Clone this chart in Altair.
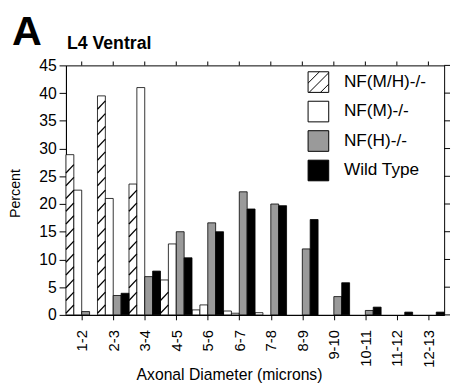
import altair as alt
import pandas as pd

# ---- data ----
categories = ["1-2", "2-3", "3-4", "4-5", "5-6", "6-7", "7-8", "8-9", "9-10", "10-11", "11-12", "12-13"]
series = ["NF(M/H)-/-", "NF(M)-/-", "NF(H)-/-", "Wild Type"]
nf_mh = [28.9, 39.5, 23.6, 6.3, 0.9, 0.7, 0.4, 0, 0, 0, 0, 0]
nf_m = [22.5, 21.0, 41.0, 12.8, 1.8, 0.3, 0, 0, 0, 0, 0, 0]
nf_h = [0.6, 3.5, 6.9, 15.0, 16.6, 22.2, 20.0, 11.9, 3.3, 0.8, 0, 0]
wild = [0, 3.9, 7.9, 10.3, 15.0, 19.1, 19.7, 17.2, 5.8, 1.4, 0.5, 0.5]
y_ticks = [0, 5, 10, 15, 20, 25, 30, 35, 40, 45]
fills = ["white", "white", "#9a9a9a", "black"]

FONT = "Liberation Sans"
W, H = 385, 254
n = len(categories)
values = [nf_mh, nf_m, nf_h, wild]

rows = []
for j, (s, vals) in enumerate(zip(series, values)):
    for i, v in enumerate(vals):
        if v > 0:
            rows.append({"series": s, "cat": categories[i],
                         "x0": i + j / 4, "x1": i + (j + 1) / 4, "v": v})
bars_df = pd.DataFrame(rows)

# hatch segments for the NF(M/H)-/- bars, derived from their values
spacing, rise = 2.3, 1.5
hatch = []
for i, v in enumerate(nf_mh):
    k = 0
    while k * spacing + 0.3 + rise <= v:
        y0 = k * spacing + 0.3
        hatch.append({"x0": i + 0.0, "x1": i + 0.25, "v": y0, "v1": y0 + rise})
        k += 1
hatch_df = pd.DataFrame(hatch)

centers = [i + 0.5 for i in range(n)]
label_expr = "[" + ",".join("'" + c + "'" for c in categories) + "][floor(datum.value)]"

xscale = alt.Scale(domain=[0, n], nice=False, zero=False)
yscale = alt.Scale(domain=[0, 45], nice=False)
fillscale = alt.Scale(domain=series, range=fills)

hatched_sq = "M-1,-1H1V1H-1Z M-1,0.1L0.1,-1 M-0.9,1L1,-0.9 M0.2,1L1,0.2"
symbol_expr = "datum.value === '" + series[0] + "' ? '" + hatched_sq + "' : 'square'"

x_axis = alt.Axis(values=centers, labelExpr=label_expr, labelAngle=270,
                  title="Axonal Diameter (microns)", orient="bottom",
                  tickSize=5, labelPadding=10, labelFontSize=15,
                  titleX=166, titleY=66, titleBaseline="alphabetic",
                  titleAnchor="middle")
y_axis = alt.Axis(values=y_ticks, title="Percent", orient="left",
                  tickSize=7, labelPadding=3, labelFontSize=16,
                  titleX=-47, titleY=130, titleAngle=270,
                  titleBaseline="alphabetic", titleFontSize=14.5)

bars = alt.Chart(bars_df).mark_rect(stroke="black", strokeWidth=0.8).encode(
    x=alt.X("x0:Q", scale=xscale, axis=x_axis),
    x2="x1:Q",
    y=alt.Y("v:Q", scale=yscale, axis=y_axis),
    y2=alt.datum(0),
    fill=alt.Fill("series:N", scale=fillscale,
                  legend=alt.Legend(title=None, orient="none", legendX=246, legendY=6,
                                    labelFontSize=17.5, labelFont=FONT, symbolSize=441,
                                    symbolType={"expr": symbol_expr},
                                    symbolStrokeColor="black", symbolStrokeWidth=1,
                                    rowPadding=4, labelOffset=15, padding=0,
                                    labelColor="black")),
)

hatch_layer = alt.Chart(hatch_df).mark_rule(color="black", strokeWidth=1.3).encode(
    x=alt.X("x0:Q", scale=xscale, axis=x_axis),
    x2="x1:Q",
    y=alt.Y("v:Q", scale=yscale, axis=y_axis),
    y2="v1:Q",
)

# outward ticks on the top and right frame edges (same positions as the axis ticks)
top_df = pd.DataFrame({"x0": centers})
top_ticks = alt.Chart(top_df).mark_tick(color="black", orient="vertical", size=4,
                                        thickness=1, opacity=1).encode(
    x=alt.X("x0:Q", scale=xscale, axis=x_axis),
    y=alt.value(-2),
)
right_df = pd.DataFrame({"v": y_ticks})
right_ticks = alt.Chart(right_df).mark_tick(color="black", orient="horizontal", size=6,
                                            thickness=1, opacity=1).encode(
    y=alt.Y("v:Q", scale=yscale, axis=y_axis),
    x=alt.value(W + 3),
)

titles_df = pd.DataFrame({"t": ["A"]})
big_a = alt.Chart(titles_df).mark_text(font=FONT, fontSize=42, fontWeight="bold",
                                       align="left", baseline="alphabetic",
                                       color="black").encode(
    text="t:N", x=alt.value(-55), y=alt.value(-21))
sub_df = pd.DataFrame({"t": ["L4 Ventral"]})
sub = alt.Chart(sub_df).mark_text(font=FONT, fontSize=18, fontWeight="bold",
                                  align="left", baseline="alphabetic",
                                  color="black").encode(
    text="t:N", x=alt.value(1), y=alt.value(-17))

chart = alt.layer(bars, hatch_layer, top_ticks, right_ticks, big_a, sub).properties(
    width=W, height=H,
    autosize=alt.AutoSizeParams(type="none"),
    padding={"left": 59, "top": 55, "right": 8, "bottom": 71},
).configure(font=FONT).configure_view(
    stroke="black", strokeWidth=1
).configure_axis(
    grid=False, domainColor="black", tickColor="black", labelColor="black",
    titleColor="black", labelFont=FONT, titleFont=FONT, titleFontWeight="normal",
    titleFontSize=16, domainWidth=1, tickWidth=1,
)

chart.save("out.html", embed_options={"renderer": "svg", "actions": False})
